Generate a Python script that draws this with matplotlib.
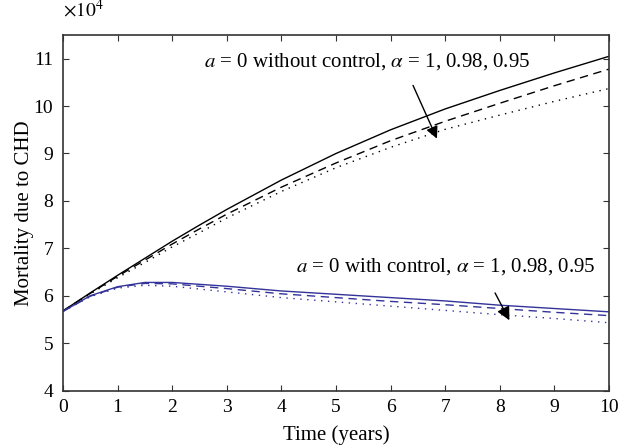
import matplotlib
matplotlib.use("Agg")
import matplotlib.pyplot as plt

plt.rcParams['font.family'] = ['Liberation Serif', 'DejaVu Serif']
plt.rcParams['mathtext.fontset'] = 'stix'

# time in years, mortality in units of 10^4
t = [0, 0.5, 1, 1.5, 2, 2.5, 3, 4, 5, 6, 7, 8, 9, 10]

no_ctrl_a1 = [5.68, 6.06, 6.43, 6.79, 7.15, 7.49, 7.82, 8.44, 9.00, 9.50, 9.94, 10.33, 10.70, 11.05]
no_ctrl_a098 = [5.68, 6.05, 6.41, 6.75, 7.09, 7.41, 7.72, 8.29, 8.80, 9.27, 9.68, 10.06, 10.43, 10.78]
no_ctrl_a095 = [5.68, 6.04, 6.38, 6.70, 7.03, 7.33, 7.64, 8.20, 8.70, 9.13, 9.51, 9.81, 10.10, 10.37]

ctrl_a1 = [5.67, 6.00, 6.19, 6.28, 6.28, 6.24, 6.20, 6.10, 6.03, 5.96, 5.89, 5.80, 5.73, 5.66]
ctrl_a098 = [5.67, 5.99, 6.18, 6.26, 6.25, 6.20, 6.15, 6.04, 5.96, 5.88, 5.81, 5.73, 5.65, 5.58]
ctrl_a095 = [5.67, 5.98, 6.16, 6.22, 6.20, 6.14, 6.08, 5.96, 5.87, 5.78, 5.69, 5.60, 5.52, 5.43]

navy = '#33339a'

fig = plt.figure(figsize=(6.19, 4.48), dpi=100)
ax = fig.add_axes([0.1018, 0.1283, 0.882, 0.7936])

ax.plot(t, no_ctrl_a1, color='black', lw=1.0, ls='-')
ax.plot(t, no_ctrl_a098, color='black', lw=1.0, ls=(0, (6, 4)))
ax.plot(t, no_ctrl_a095, color='black', lw=1.0, ls=(0, (1, 4)))
ax.plot(t, ctrl_a1, color=navy, lw=1.0, ls='-')
ax.plot(t, ctrl_a098, color=navy, lw=1.0, ls=(0, (6, 4)))
ax.plot(t, ctrl_a095, color=navy, lw=1.0, ls=(0, (1, 4)))

ax.set_xlim(0, 10)
ax.set_ylim(4, 11.5)
ax.set_xticks(range(0, 11))
ax.set_yticks(range(4, 12))
ax.tick_params(direction='in', top=True, right=True, labelsize=14, length=4, color='#333333')
ax.tick_params(axis='x', pad=6)
ax.tick_params(axis='y', pad=7)
for s in ax.spines.values():
    s.set_color('#333333')
    s.set_linewidth(1.2)

ax.set_xlabel('Time (years)', fontsize=15, labelpad=7)
ax.set_ylabel('Mortality due to CHD', fontsize=15, labelpad=0)
ax.text(0, 1.04, r'$\times10^4$', transform=ax.transAxes, fontsize=14, ha='left', va='bottom')

ax.text(5.57, 10.95, r'$a$ = 0 without control, $\alpha$ = 1, 0.98, 0.95',
        fontsize=15, ha='center', va='center')
ax.annotate('', xy=(6.87, 9.26), xytext=(6.39, 10.49),
            arrowprops=dict(arrowstyle='-|>', color='black', lw=1.0, mutation_scale=18))

ax.text(7.01, 6.61, r'$a$ = 0 with control, $\alpha$ = 1, 0.98, 0.95',
        fontsize=15, ha='center', va='center')
ax.annotate('', xy=(8.2, 5.43), xytext=(7.89, 6.11),
            arrowprops=dict(arrowstyle='-|>', color='black', lw=1.0, mutation_scale=20))

fig.savefig('out.png', dpi=100)
